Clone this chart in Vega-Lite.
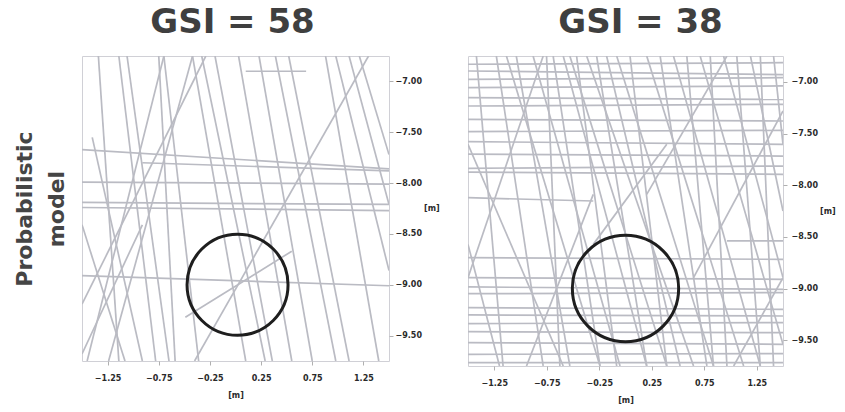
{
  "$schema": "https://vega.github.io/schema/vega-lite/v6.json",
  "background": "white",
  "padding": {"left": 12, "top": 5, "right": 0, "bottom": 0},
  "spacing": 27,
  "config": {
    "font": "DejaVu Sans",
    "view": {"stroke": "#d0d0d6", "strokeWidth": 1},
    "title": {"fontSize": 34, "fontWeight": "bold", "color": "#3f3f3f", "anchor": "middle", "offset": 16},
    "axis": {
      "grid": false, "domain": false, "tickColor": "#b0b0b0", "tickSize": 4,
      "labelFontSize": 8, "labelFontWeight": "bold", "labelColor": "#2a2a2a",
      "titleFontSize": 8, "titleFontWeight": "bold", "titleColor": "#2a2a2a"
    }
  },
  "datasets": {
    "lines": [
      {"panel": "A", "x1": -1.14, "y1": -6.75, "x2": -0.78, "y2": -9.75},
      {"panel": "A", "x1": -1.06, "y1": -6.75, "x2": -0.65, "y2": -9.75},
      {"panel": "A", "x1": -0.75, "y1": -6.75, "x2": -0.59, "y2": -9.75},
      {"panel": "A", "x1": -0.70, "y1": -6.75, "x2": -0.36, "y2": -9.75},
      {"panel": "A", "x1": -0.42, "y1": -6.75, "x2": 0.10, "y2": -9.75},
      {"panel": "A", "x1": -0.33, "y1": -6.75, "x2": 0.29, "y2": -9.75},
      {"panel": "A", "x1": -0.20, "y1": -6.75, "x2": 0.36, "y2": -9.75},
      {"panel": "A", "x1": 0.03, "y1": -6.75, "x2": 0.55, "y2": -9.75},
      {"panel": "A", "x1": 0.23, "y1": -6.75, "x2": 0.75, "y2": -9.75},
      {"panel": "A", "x1": 0.39, "y1": -6.75, "x2": 0.98, "y2": -9.75},
      {"panel": "A", "x1": 0.52, "y1": -6.75, "x2": 1.11, "y2": -9.75},
      {"panel": "A", "x1": 0.88, "y1": -6.75, "x2": 1.40, "y2": -9.75},
      {"panel": "A", "x1": 0.98, "y1": -6.75, "x2": 1.5, "y2": -8.86},
      {"panel": "A", "x1": 1.11, "y1": -6.75, "x2": 1.5, "y2": -8.21},
      {"panel": "A", "x1": 1.21, "y1": -6.75, "x2": 1.5, "y2": -7.72},
      {"panel": "A", "x1": -1.5, "y1": -8.41, "x2": -1.08, "y2": -9.75},
      {"panel": "A", "x1": -1.40, "y1": -7.55, "x2": -0.91, "y2": -9.75},
      {"panel": "A", "x1": -1.34, "y1": -6.75, "x2": -1.14, "y2": -9.75},
      {"panel": "A", "x1": -1.5, "y1": -9.19, "x2": -0.29, "y2": -6.75},
      {"panel": "A", "x1": -1.24, "y1": -9.75, "x2": -0.42, "y2": -6.75},
      {"panel": "A", "x1": -1.45, "y1": -9.75, "x2": -0.70, "y2": -6.75},
      {"panel": "A", "x1": -0.49, "y1": -9.32, "x2": 0.55, "y2": -8.67},
      {"panel": "A", "x1": -0.40, "y1": -9.75, "x2": 1.30, "y2": -6.75},
      {"panel": "A", "x1": -1.5, "y1": -9.68, "x2": -0.91, "y2": -8.41},
      {"panel": "A", "x1": -1.5, "y1": -7.67, "x2": 1.5, "y2": -7.86},
      {"panel": "A", "x1": -0.91, "y1": -7.80, "x2": 1.5, "y2": -7.88},
      {"panel": "A", "x1": -1.5, "y1": -7.99, "x2": 1.5, "y2": -8.01},
      {"panel": "A", "x1": -1.5, "y1": -8.19, "x2": 1.5, "y2": -8.21},
      {"panel": "A", "x1": -1.5, "y1": -8.24, "x2": 1.5, "y2": -8.27},
      {"panel": "A", "x1": -1.5, "y1": -8.91, "x2": 1.5, "y2": -9.01},
      {"panel": "A", "x1": 0.10, "y1": -6.90, "x2": 0.69, "y2": -6.90},

      {"panel": "B", "x1": -1.42, "y1": -6.75, "x2": -1.166, "y2": -9.75},
      {"panel": "B", "x1": -1.5, "y1": -7.605, "x2": -0.593, "y2": -9.75},
      {"panel": "B", "x1": -1.23, "y1": -6.75, "x2": -0.784, "y2": -9.75},
      {"panel": "B", "x1": -1.134, "y1": -6.75, "x2": -0.243, "y2": -9.75},
      {"panel": "B", "x1": -1.04, "y1": -6.75, "x2": -0.53, "y2": -9.75},
      {"panel": "B", "x1": -0.88, "y1": -6.75, "x2": -0.052, "y2": -9.75},
      {"panel": "B", "x1": -0.689, "y1": -6.75, "x2": -0.243, "y2": -9.75},
      {"panel": "B", "x1": -0.593, "y1": -6.75, "x2": 0.202, "y2": -9.75},
      {"panel": "B", "x1": -0.53, "y1": -6.75, "x2": 0.393, "y2": -9.75},
      {"panel": "B", "x1": -0.466, "y1": -6.75, "x2": -0.084, "y2": -9.75},
      {"panel": "B", "x1": -0.37, "y1": -6.75, "x2": 0.648, "y2": -9.75},
      {"panel": "B", "x1": -0.275, "y1": -6.75, "x2": 0.202, "y2": -9.75},
      {"panel": "B", "x1": -0.18, "y1": -6.75, "x2": 0.52, "y2": -9.75},
      {"panel": "B", "x1": -0.084, "y1": -6.75, "x2": 0.838, "y2": -9.75},
      {"panel": "B", "x1": 0.043, "y1": -6.75, "x2": 0.393, "y2": -9.75},
      {"panel": "B", "x1": 0.202, "y1": -6.75, "x2": 1.125, "y2": -9.75},
      {"panel": "B", "x1": 0.33, "y1": -6.75, "x2": 0.775, "y2": -9.75},
      {"panel": "B", "x1": 0.457, "y1": -6.75, "x2": 1.284, "y2": -9.75},
      {"panel": "B", "x1": 0.584, "y1": -6.75, "x2": 0.838, "y2": -9.75},
      {"panel": "B", "x1": 0.711, "y1": -6.75, "x2": 1.5, "y2": -9.54},
      {"panel": "B", "x1": 0.807, "y1": -6.75, "x2": 0.966, "y2": -9.75},
      {"panel": "B", "x1": 0.934, "y1": -6.75, "x2": 1.5, "y2": -8.895},
      {"panel": "B", "x1": 1.06, "y1": -6.75, "x2": 1.284, "y2": -9.75},
      {"panel": "B", "x1": 1.19, "y1": -6.75, "x2": 1.5, "y2": -8.25},
      {"panel": "B", "x1": 1.284, "y1": -6.75, "x2": 1.41, "y2": -9.75},
      {"panel": "B", "x1": 1.41, "y1": -6.75, "x2": 1.5, "y2": -7.605},
      {"panel": "B", "x1": -1.5, "y1": -8.573, "x2": -1.2, "y2": -9.75},
      {"panel": "B", "x1": -0.752, "y1": -6.75, "x2": -0.625, "y2": -9.75},
      {"panel": "B", "x1": -1.5, "y1": -8.895, "x2": -0.784, "y2": -6.75},
      {"panel": "B", "x1": -0.943, "y1": -9.75, "x2": -0.307, "y2": -8.089},
      {"panel": "B", "x1": 0.202, "y1": -8.089, "x2": 0.966, "y2": -6.75},
      {"panel": "B", "x1": 0.648, "y1": -8.895, "x2": 1.5, "y2": -7.282},
      {"panel": "B", "x1": -0.307, "y1": -8.573, "x2": 0.393, "y2": -7.605},
      {"panel": "B", "x1": 1.03, "y1": -9.75, "x2": 1.5, "y2": -8.895},
      {"panel": "B", "x1": -1.5, "y1": -6.83, "x2": 1.5, "y2": -6.815},
      {"panel": "B", "x1": -1.5, "y1": -6.895, "x2": 1.5, "y2": -6.93},
      {"panel": "B", "x1": -1.5, "y1": -6.976, "x2": 1.5, "y2": -6.96},
      {"panel": "B", "x1": -1.5, "y1": -7.056, "x2": 1.5, "y2": -7.04},
      {"panel": "B", "x1": -1.5, "y1": -7.153, "x2": 1.5, "y2": -7.17},
      {"panel": "B", "x1": -1.5, "y1": -7.234, "x2": 1.5, "y2": -7.218},
      {"panel": "B", "x1": -1.5, "y1": -7.363, "x2": 1.5, "y2": -7.379},
      {"panel": "B", "x1": -1.5, "y1": -7.482, "x2": 1.5, "y2": -7.47},
      {"panel": "B", "x1": -1.5, "y1": -7.579, "x2": 1.5, "y2": -7.605},
      {"panel": "B", "x1": -1.5, "y1": -7.70, "x2": 1.5, "y2": -7.718},
      {"panel": "B", "x1": -1.5, "y1": -7.837, "x2": 1.5, "y2": -7.815},
      {"panel": "B", "x1": -1.5, "y1": -7.873, "x2": 1.5, "y2": -7.895},
      {"panel": "B", "x1": -1.5, "y1": -8.121, "x2": -0.307, "y2": -8.153},
      {"panel": "B", "x1": 0.966, "y1": -8.54, "x2": 1.5, "y2": -8.54},
      {"panel": "B", "x1": -1.5, "y1": -8.702, "x2": 1.5, "y2": -8.718},
      {"panel": "B", "x1": -1.5, "y1": -8.895, "x2": 1.5, "y2": -8.911},
      {"panel": "B", "x1": -1.5, "y1": -8.985, "x2": 1.5, "y2": -9.008},
      {"panel": "B", "x1": -1.5, "y1": -9.05, "x2": 1.5, "y2": -9.04},
      {"panel": "B", "x1": -1.5, "y1": -9.185, "x2": 1.5, "y2": -9.202},
      {"panel": "B", "x1": -1.5, "y1": -9.256, "x2": 1.5, "y2": -9.266},
      {"panel": "B", "x1": -1.5, "y1": -9.34, "x2": 1.5, "y2": -9.33},
      {"panel": "B", "x1": -1.5, "y1": -9.418, "x2": 1.5, "y2": -9.427},
      {"panel": "B", "x1": -1.5, "y1": -9.524, "x2": 1.5, "y2": -9.54},
      {"panel": "B", "x1": -1.5, "y1": -9.637, "x2": 1.5, "y2": -9.63},
      {"panel": "B", "x1": -1.5, "y1": -9.718, "x2": 1.5, "y2": -9.718}
    ],
    "circles": [
      {"panel": "A", "cx": 0.02, "cy": -9.0},
      {"panel": "B", "cx": 0.0, "cy": -9.0}
    ]
  },
  "hconcat": [
    {
      "width": 307,
      "height": 305,
      "title": {"text": "GSI = 58", "dx": -3},
      "layer": [
        {
          "data": {"name": "lines"},
          "transform": [{"filter": "datum.panel == 'A'"}],
          "mark": {"type": "rule", "color": "#babbc3", "strokeWidth": 1.7, "clip": true},
          "encoding": {
            "x": {"field": "x1", "type": "quantitative", "scale": {"domain": [-1.5, 1.5], "nice": false, "zero": false},
                  "axis": {"values": [-1.25, -0.75, -0.25, 0.25, 0.75, 1.25], "format": ".2f", "title": "[m]", "labelPadding": 9, "titlePadding": 9}},
            "y": {"field": "y1", "type": "quantitative", "scale": {"domain": [-9.75, -6.75], "nice": false, "zero": false},
                  "axis": {"orient": "right", "values": [-7, -7.5, -8, -8.5, -9, -9.5], "format": ".2f", "title": "[m]", "titleAngle": 0, "titleBaseline": "middle", "titlePadding": 10, "labelPadding": 2}},
            "x2": {"field": "x2"},
            "y2": {"field": "y2"}
          }
        },
        {
          "data": {"name": "circles"},
          "transform": [{"filter": "datum.panel == 'A'"}],
          "mark": {"type": "point", "shape": "circle", "filled": false, "size": 10200, "strokeWidth": 3, "color": "#1e1e1e", "opacity": 1},
          "encoding": {
            "x": {"field": "cx", "type": "quantitative"},
            "y": {"field": "cy", "type": "quantitative",
                  "axis": {"orient": "left", "labels": false, "ticks": false, "domain": false, "title": ["Probabilistic", "model"],
                           "titleFontSize": 22, "titleFontWeight": "bold", "titleColor": "#454545", "titlePadding": 14, "titleLineHeight": 32}}
          }
        }
      ],
      "resolve": {"axis": {"y": "independent"}}
    },
    {
      "width": 315,
      "height": 310,
      "title": {"text": "GSI = 38", "dx": 15},
      "layer": [
        {
          "data": {"name": "lines"},
          "transform": [{"filter": "datum.panel == 'B'"}],
          "mark": {"type": "rule", "color": "#babbc3", "strokeWidth": 1.7, "clip": true},
          "encoding": {
            "x": {"field": "x1", "type": "quantitative", "scale": {"domain": [-1.5, 1.5], "nice": false, "zero": false},
                  "axis": {"values": [-1.25, -0.75, -0.25, 0.25, 0.75, 1.25], "format": ".2f", "title": "[m]", "labelPadding": 9, "titlePadding": 9}},
            "y": {"field": "y1", "type": "quantitative", "scale": {"domain": [-9.75, -6.75], "nice": false, "zero": false},
                  "axis": {"orient": "right", "values": [-7, -7.5, -8, -8.5, -9, -9.5], "format": ".2f", "title": "[m]", "titleAngle": 0, "titleBaseline": "middle", "titlePadding": 10, "labelPadding": 4}},
            "x2": {"field": "x2"},
            "y2": {"field": "y2"}
          }
        },
        {
          "data": {"name": "circles"},
          "transform": [{"filter": "datum.panel == 'B'"}],
          "mark": {"type": "point", "shape": "circle", "filled": false, "size": 11300, "strokeWidth": 3, "color": "#1e1e1e", "opacity": 1},
          "encoding": {
            "x": {"field": "cx", "type": "quantitative"},
            "y": {"field": "cy", "type": "quantitative"}
          }
        }
      ]
    }
  ]
}
